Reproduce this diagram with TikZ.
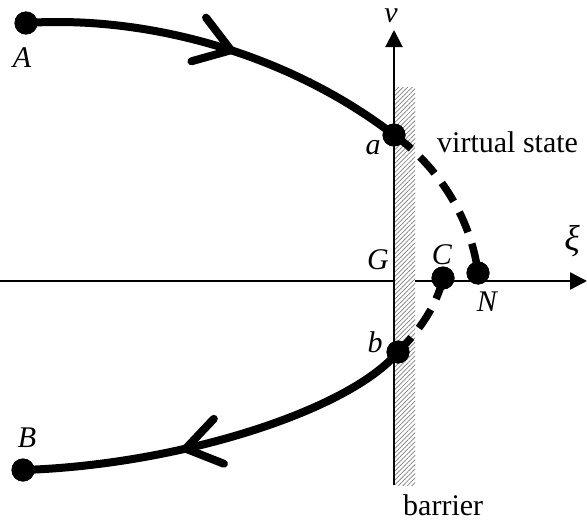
\documentclass[tikz,border=0pt]{standalone}
\usepackage{fontspec}
\setmainfont{Liberation Serif}
\usetikzlibrary{arrows.meta,patterns.meta,decorations.markings}
\tikzset{
  dot/.style={circle,fill=black,inner sep=0pt,minimum size=23pt},
  lbl/.style={inner sep=0pt,font=\fontsize{30}{35}\selectfont\itshape},
  txt/.style={inner sep=0pt,font=\fontsize{30}{35}\selectfont},
  axisline/.style={line width=2pt,-{Triangle[length=17pt,width=17pt]}},
  traj/.style={line width=8pt,line cap=round},
  virt/.style={line width=7.5pt,dash pattern=on 22pt off 12pt},
  midarrow/.style={postaction={decorate},decoration={markings,
    mark=at position #1 with {\arrow{Straight Barb[length=34pt,width=46pt,round]}}}}
}
\begin{document}
\begin{tikzpicture}[x=1pt,y=-1pt]
\useasboundingbox (0,0) rectangle (587,522);
% axes
\coordinate (hl) at (0,281);
\coordinate (hr) at (587,281);
\coordinate (vbot) at (394,485);
\coordinate (vtop) at (394,30);
\draw[axisline,line width=2.5pt] (hl) -- (hr);
% barrier
\fill[white] (395,87) rectangle (415,485);
\fill[pattern={Lines[angle=45,distance=3.2pt,line width=0.7pt]},pattern color=gray] (395,87) rectangle (415,485);
\draw[axisline] (vbot) -- (vtop);
% points
\node[dot] (A) at (26,23) {};
\node[dot] (B) at (23,470) {};
\node[dot] (a) at (394,135) {};
\node[dot] (b) at (398,352) {};
\node[dot] (C) at (443,278) {};
\node[dot] (N) at (478,273) {};
% trajectories
\draw[traj,midarrow=0.54] (A.center) .. controls (150,15) and (290,55) .. (a.center);
\draw[traj,midarrow=0.6] (b.center) .. controls (350,410) and (180,465) .. (B.center);
\draw[virt] (a.center) .. controls (430,160) and (470,210) .. (N.center);
\draw[virt] (C.center) .. controls (437,305) and (420,330) .. (b.center);
% redraw dots on top
\foreach \p in {A,B,a,b,C,N} \fill (\p) circle (11.5pt);
% labels
\node[lbl] (lA) at (22,58) {A};
\node[lbl] (lB) at (27,438) {B};
\node[lbl] (la) at (373,148) {a};
\node[lbl] (lb) at (375,342) {b};
\node[lbl] (lG) at (378,260) {G};
\node[lbl] (lC) at (442,255) {C};
\node[lbl] (lN) at (487,302) {N};
\node[lbl] (lv) at (391,16) {v};
\node[lbl,font=\fontsize{36}{40}\selectfont\itshape] (lxi) at (572,241) {ξ};
\node[txt,anchor=base west] (lvs) at (437,152) {virtual state};
\node[txt,anchor=base west] (lbar) at (403,515) {barrier};
\end{tikzpicture}
\end{document}
